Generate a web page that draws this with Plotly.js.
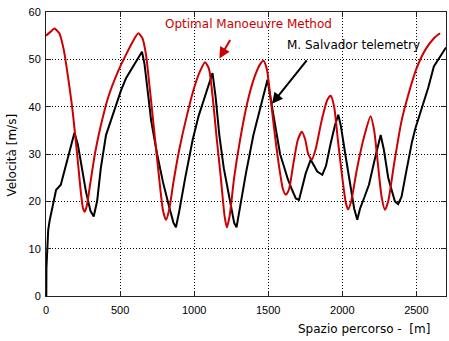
<!DOCTYPE html>
<html>
<head>
<meta charset="utf-8">
<script src="https://cdn.plot.ly/plotly-3.0.1.min.js"></script>
<style>html,body{margin:0;padding:0;background:#fff;}#chart{width:449px;height:341px;}</style>
</head>
<body>
<div id="chart"></div>
<script>
// Optimal Manoeuvre Method (red)
const optX = [0,30,57,90,120,150,180,210,235,250,262,275,300,330,370,420,480,540,590,623,650,675,700,730,760,790,810,830,860,900,950,1000,1040,1073,1100,1125,1150,1180,1205,1221,1240,1270,1310,1360,1410,1450,1468,1490,1515,1545,1575,1600,1619,1640,1670,1700,1727,1750,1770,1794,1820,1860,1900,1922,1945,1970,2000,2025,2040,2060,2100,2150,2191,2215,2240,2265,2288,2310,2350,2400,2450,2500,2560,2620,2660];
const optY = [55,55.8,56.5,55.5,52,46,39,30,22,18.5,17.8,19,24,30,36,42,47,51,54,55.5,54.5,51,44,35,26,18,16.1,18,24,31,38,44,47.5,49.4,48,42,34,25,17,14.5,17,25,33,41,46.5,49.2,49.7,48,42,34,27,22.5,21.4,22.5,28,33,34.7,33,30,28.8,31,37,41.5,42.3,40,33,25,19.5,18.3,20,27,34,38,35,28,21,18.2,20,28,37,43,48,52,54.5,55.5];

// M. Salvador telemetry (black)
const telX = [0,2,3,10,15,25,40,55,68,100,130,160,192,215,240,270,300,322,345,370,405,448,480,507,540,580,620,648,665,686,710,750,790,830,860,877,900,940,990,1030,1070,1100,1124,1145,1170,1200,1240,1270,1286,1310,1350,1400,1450,1480,1495,1520,1550,1580,1610,1630,1660,1686,1708,1730,1753,1787,1810,1831,1865,1890,1920,1950,1973,1990,2020,2050,2080,2101,2120,2146,2180,2220,2259,2280,2310,2333,2355,2377,2400,2430,2449,2470,2494,2540,2580,2618,2650,2692,2700];
const telY = [0,0,6,10,14,16,18,20,22.4,23.5,27,31,34.5,32,27,22,18,16.8,20,27,34,37.9,41,43.5,46,48,50,51.6,49,43.5,37,30,24,19,15.5,14.5,18,25,33,38,42,44.5,47.1,42,34,27,20,15.5,14.5,19,26,34,40,43.5,45.7,41,35,30,27,24.9,22.5,20.6,20.3,23,25.9,28.8,27.5,26.3,25.6,27.5,32,36,38.3,36,30,24,18.5,16.1,18.5,20.6,23.5,29,34,31,25,22.4,20,19.4,21,26,29.5,32.5,35.5,40,44,48.5,50,52,52.5];

const xTicks = [0,500,1000,1500,2000,2500];
const yTicks = [0,10,20,30,40,50,60];
const labels = ["Optimal Manoeuvre Method", "M. Salvador telemetry"];
const xTitle = "Spazio percorso -  [m]";
const yTitle = "Velocità [m/s]";

const RED = "#cc0000";
const FONT = "DejaVu Sans";

const traces = [
  {x: telX, y: telY, mode: "lines", line: {color: "#000", width: 2}, hoverinfo: "skip"},
  {x: optX, y: optY, mode: "lines", line: {color: RED, width: 2, shape: "spline", smoothing: 0.6}, hoverinfo: "skip"}
];

const axisCommon = {
  showline: true, linecolor: "#222", linewidth: 1, mirror: "ticks",
  ticks: "inside", ticklen: 5, tickcolor: "#222", tickwidth: 1,
  showgrid: true, gridcolor: "#000", gridwidth: 1, griddash: "1px,2px",
  zeroline: false, tickfont: {family: "Liberation Sans", size: 11, color: "#000"}
};

const layout = {
  width: 449, height: 341,
  margin: {l: 46, r: 3, t: 12, b: 45},
  paper_bgcolor: "#fff", plot_bgcolor: "#fff",
  showlegend: false,
  xaxis: Object.assign({}, axisCommon, {range: [0, 2700], tickvals: xTicks, ticklabelstandoff: 4}),
  yaxis: Object.assign({}, axisCommon, {range: [0, 60], tickvals: yTicks, ticklabelstandoff: 2}),
  annotations: [
    {xref: "x", yref: "y", x: 788, y: 57.4, text: labels[0], showarrow: false, xanchor: "left", yanchor: "middle", font: {family: FONT, size: 12, color: RED}},
    {xref: "x", yref: "y", x: 1613, y: 53.0, text: labels[1], showarrow: false, xanchor: "left", yanchor: "middle", font: {family: FONT, size: 12, color: "#000"}},
    {xref: "x", yref: "y", x: 1170, y: 50.2, ax: 1249, ay: 54.4, axref: "x", ayref: "y", text: "", showarrow: true, arrowhead: 2, arrowsize: 1.1, arrowwidth: 2, arrowcolor: RED},
    {xref: "x", yref: "y", x: 1525, y: 40.6, ax: 1768, ay: 50.1, axref: "x", ayref: "y", text: "", showarrow: true, arrowhead: 2, arrowsize: 1.1, arrowwidth: 2, arrowcolor: "#000"},
    {xref: "paper", yref: "paper", x: 0.796, y: -0.116, text: xTitle, showarrow: false, xanchor: "center", yanchor: "middle", font: {family: FONT, size: 12, color: "#000"}},
    {xref: "paper", yref: "paper", x: -0.085, y: 0.495, text: yTitle, showarrow: false, textangle: -90, xanchor: "center", yanchor: "middle", font: {family: FONT, size: 12, color: "#000"}}
  ]
};

Plotly.newPlot("chart", traces, layout, {staticPlot: true, displayModeBar: false});
</script>
</body>
</html>
